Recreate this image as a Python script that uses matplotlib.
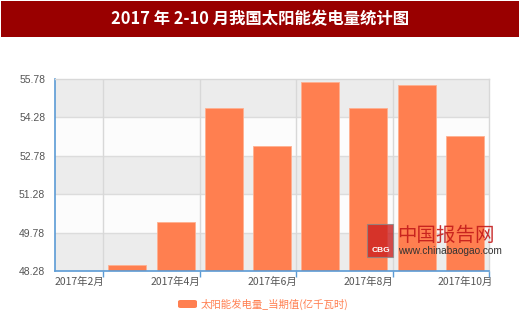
import matplotlib
matplotlib.use("Agg")
import matplotlib.pyplot as plt
from matplotlib.patches import Rectangle, FancyBboxPatch

plt.rcParams['font.family'] = ['Noto Sans CJK SC', 'DejaVu Sans']

categories = ["2017年2月", "2017年3月", "2017年4月", "2017年5月", "2017年6月",
              "2017年7月", "2017年8月", "2017年9月", "2017年10月"]
values = [None, 48.53, 50.21, 54.66, 53.17, 55.65, 54.66, 55.56, 53.57]
y_ticks = [48.28, 49.78, 51.28, 52.78, 54.28, 55.78]
series_name = "太阳能发电量_当期值(亿千瓦时)"
title = "2017 年 2-10 月我国太阳能发电量统计图"

W, H = 520, 320
fig = plt.figure(figsize=(W / 100, H / 100), dpi=100)
fig.patch.set_facecolor("white")

# title band
fig.patches.append(Rectangle((1 / W, 1 - 37 / H), 518 / W, 36 / H, transform=fig.transFigure,
                             facecolor="#990000", edgecolor="none", zorder=0))
fig.text(0.5, 1 - 19 / H, title, ha="center", va="center", color="white",
         fontsize=11.8, fontweight="bold")

x0, x1, yt, yb = 55, 489, 79, 271
ax = fig.add_axes([x0 / W, 1 - yb / H, (x1 - x0) / W, (yb - yt) / H])
n = len(categories)
ax.set_xlim(-0.5, n - 0.5)
ax.set_ylim(y_ticks[0], y_ticks[-1])

# alternating bands
for i in range(len(y_ticks) - 1):
    if (len(y_ticks) - 2 - i) % 2 == 0:
        ax.axhspan(y_ticks[i], y_ticks[i + 1], facecolor="#ececec", edgecolor="none", zorder=0)
    else:
        ax.axhspan(y_ticks[i], y_ticks[i + 1], facecolor="#fcfcfc", edgecolor="none", zorder=0)
for y in y_ticks[1:-1]:
    ax.axhline(y, color="#dcdcdc", lw=1, zorder=1)

grid_x = [i + 0.5 for i in range(0, n, 2)]
for gx in grid_x[:-1]:
    ax.axvline(gx, color="#d8d8d8", lw=1, zorder=1)

xs = [i for i, v in enumerate(values) if v is not None]
hs = [v - y_ticks[0] for v in values if v is not None]
ax.bar(xs, hs, bottom=y_ticks[0], width=0.79, color="#ff7f50", edgecolor="#ffb090",
       linewidth=0.6, zorder=2)

ax.set_yticks(y_ticks)
ax.set_yticklabels([f"{v:.2f}" for v in y_ticks], fontsize=7.5, color="#555555",
                   family=["Liberation Sans", "DejaVu Sans"])
ax.tick_params(axis="y", length=0, pad=7)

ax.set_xticks(range(0, n, 2))
ax.set_xticklabels([categories[i] for i in range(0, n, 2)], fontsize=7.5, color="#555555")
ax.set_xticks(grid_x, minor=True)
ax.tick_params(axis="x", which="major", length=0, pad=4)
ax.tick_params(axis="x", which="minor", length=4, color="#5b9bd5", width=1)

for s in ["top", "right"]:
    ax.spines[s].set_color("#d8d8d8")
    ax.spines[s].set_linewidth(1)
for s in ["left", "bottom"]:
    ax.spines[s].set_color("#5b9bd5")
    ax.spines[s].set_linewidth(1.2)

# legend
fig.patches.append(FancyBboxPatch((178 / W, 1 - 308 / H), 19 / W, 8 / H,
                                  boxstyle="round,pad=0,rounding_size=0.005",
                                  transform=fig.transFigure, facecolor="#ff7f50",
                                  edgecolor="none"))
fig.text(201 / W, 1 - 304 / H, series_name, ha="left", va="center", color="#ff7f50", fontsize=7.5)

# watermark
fig.patches.append(Rectangle((367 / W, 1 - 257 / H), 26 / W, 33 / H, transform=fig.transFigure,
                             facecolor="#cc2020", edgecolor="#888888", lw=0.8, alpha=0.8, zorder=5))
fig.text(372 / W, 1 - 251 / H, "CBG", ha="left", va="center", color="white",
         fontsize=6, fontweight="bold", zorder=6, family=["Liberation Sans", "DejaVu Sans"])
fig.text(397 / W, 1 - 235 / H, "中国报告网", ha="left", va="center", color="#c41a1a",
         fontsize=14, alpha=0.9, zorder=6)
fig.text(398 / W, 1 - 251 / H, "www.chinabaogao.com", ha="left", va="center", color="#333333",
         fontsize=7.3, zorder=6, family=["Liberation Sans", "DejaVu Sans"])

fig.savefig("out.png", dpi=100)
